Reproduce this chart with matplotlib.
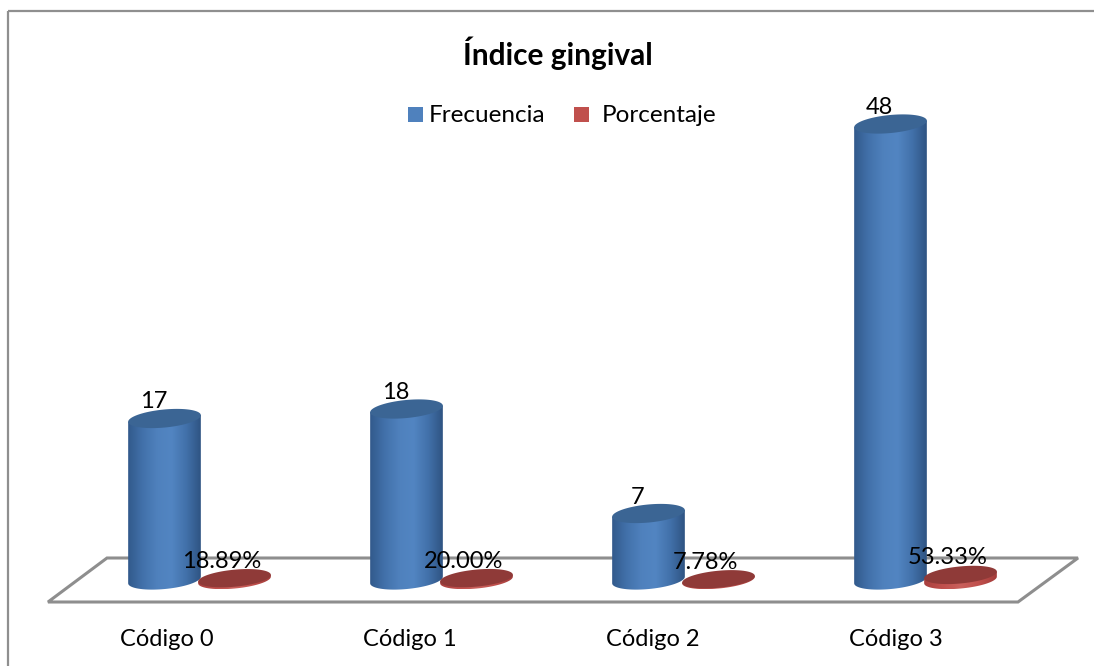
import matplotlib
matplotlib.use("Agg")
import matplotlib.pyplot as plt
import numpy as np
from matplotlib.colors import LinearSegmentedColormap
from matplotlib.patches import Polygon, Rectangle

categories = ["Código 0", "Código 1", "Código 2", "Código 3"]
frecuencia = [17, 18, 7, 48]
porcentaje = [0.1889, 0.2000, 0.0778, 0.5333]
porcentaje_labels = ["18.89%", "20.00%", "7.78%", "53.33%"]

W, H = 1094, 666
plt.rcParams["font.family"] = ["Lato", "DejaVu Sans"]

# pixels per category / per unit of value
PX_X = 242.0
PX_Y = 9.5
X0 = 164.5   # pixel x of first category
Y0 = 580.0   # pixel y of value 0

BLUE = LinearSegmentedColormap.from_list("b", ["#325a8c", "#4271aa", "#4f81bd", "#5285c2", "#4271aa", "#2f5483"])
RED = LinearSegmentedColormap.from_list("r", ["#a8403e", "#c0504d", "#c9605c", "#c0504d", "#a33c3a"])

fig = plt.figure(figsize=(W / 100, H / 100), dpi=100)

# background axes in pixels: frame and floor
bg = fig.add_axes([0, 0, 1, 1])
bg.set_xlim(0, W)
bg.set_ylim(H, 0)
bg.axis("off")
bg.add_patch(Rectangle((8, 11), 1100, 670, fill=False, ec="#8f8f8f", lw=1.6))
bg.add_patch(Polygon([(48, 602), (107, 558), (1078, 558), (1018, 602)], closed=True,
                     fc="white", ec="#8e8e8e", lw=2.2))

# data axes: x in categories, y in values
ax = fig.add_axes([0, 0, 1, 1])
ax.axis("off")
ax.patch.set_alpha(0)


def cylinder(cx, value, half_w, half_h, cmap, top_color, z, tilt=5.5):
    # tilted cylinder: half_w / half_h in pixels, drawn in data units
    a = np.radians(tilt)
    t = np.linspace(0, 2 * np.pi, 80)
    ex = half_w * np.cos(t) * np.cos(a) - half_h * np.sin(t) * np.sin(a)
    ey = half_w * np.cos(t) * np.sin(a) + half_h * np.sin(t) * np.cos(a)
    ex, ey = ex / PX_X, ey / PX_Y

    # body = lower half of the bottom ellipse + the two sides up to the top
    i_l, i_r = np.argmin(ex), np.argmax(ex)
    idx = np.arange(i_l, i_l + 80) % 80
    idx = idx[:((i_r - i_l) % 80) + 1]
    verts = list(zip(cx + ex[idx], ey[idx]))
    verts += [(cx + ex[i_r], value + ey[i_r]), (cx + ex[i_l], value + ey[i_l])]
    body = Polygon(verts, closed=True, fc="none", ec="none")
    ax.add_patch(body)
    im = ax.imshow(np.linspace(0, 1, 128).reshape(1, -1), cmap=cmap, aspect="auto", zorder=z,
                   extent=[cx + ex.min(), cx + ex.max(), ey.min(), value + ey.max()])
    im.set_clip_path(body)
    ax.add_patch(Polygon(list(zip(cx + ex, value + ey)), closed=True, fc=top_color, ec="none", zorder=z + 0.1))


for i in range(len(categories)):
    cylinder(i, frecuencia[i], 36.5, 9.0, BLUE, "#3b6594", 3)
    cylinder(i + 70 / PX_X, porcentaje[i], 36.5, 8.5, RED, "#8f3a38", 4)

    ax.text(i - 11 / PX_X, frecuencia[i] + 6 / PX_Y, str(frecuencia[i]), ha="center", va="bottom",
            fontsize=17, color="black", zorder=6)
    ax.text(i + 57 / PX_X, porcentaje[i] + 6.5 / PX_Y, porcentaje_labels[i], ha="center", va="bottom",
            fontsize=17, color="black", zorder=6)
    ax.text(i + (2 + i) / PX_X, -59 / PX_Y, categories[i], ha="center", va="center", fontsize=17, color="black")

ax.set_xlim(-X0 / PX_X, (W - X0) / PX_X)
ax.set_ylim((Y0 - H) / PX_Y, Y0 / PX_Y)

# title and legend
bg.text(558, 53, "Índice gingival", ha="center", va="center", fontsize=21.5, fontweight="bold", color="black")
bg.add_patch(Rectangle((408, 107), 15, 15, fc="#4f81bd", ec="none"))
bg.text(429, 116, "Frecuencia", ha="left", va="center", fontsize=17.5)
bg.add_patch(Rectangle((574, 107), 15, 15, fc="#c0504d", ec="none"))
bg.text(602, 116, "Porcentaje", ha="left", va="center", fontsize=17.5)

fig.savefig("out.png", dpi=100)
